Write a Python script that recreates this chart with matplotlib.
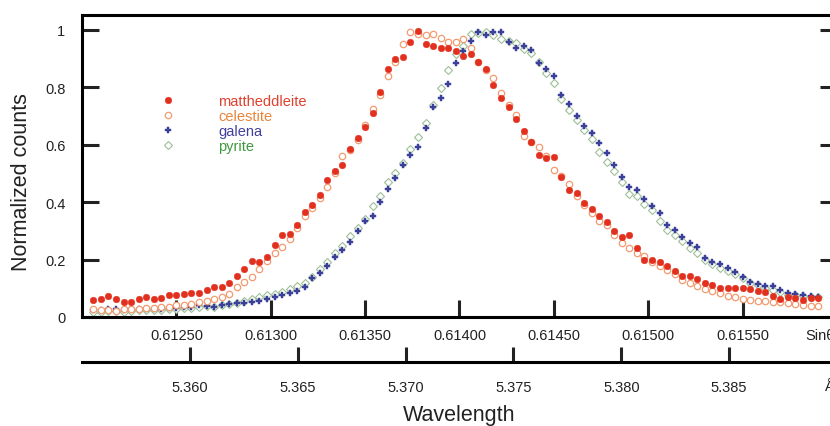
import numpy as np
import matplotlib
matplotlib.use("Agg")
import matplotlib.pyplot as plt

# ── data ──────────────────────────────────────────────────────────────────────
# scan grid in sin(theta); one point every 0.00004
sin_theta = np.round(0.61206 + 0.00004 * np.arange(97), 5)
two_d = 8.75   # lambda = 2d * sin(theta)

mattheddleite = [
    0.059, 0.062, 0.072, 0.062, 0.053, 0.052, 0.063, 0.068, 0.064, 0.065,
    0.076, 0.076, 0.079, 0.083, 0.084, 0.094, 0.103, 0.103, 0.120, 0.143,
    0.166, 0.195, 0.190, 0.210, 0.251, 0.284, 0.290, 0.319, 0.366, 0.389,
    0.424, 0.478, 0.508, 0.529, 0.586, 0.624, 0.662, 0.710, 0.784, 0.864,
    0.899, 0.906, 0.957, 0.997, 0.951, 0.943, 0.938, 0.938, 0.927, 0.908,
    0.915, 0.889, 0.864, 0.808, 0.762, 0.732, 0.691, 0.647, 0.609, 0.566,
    0.554, 0.558, 0.487, 0.444, 0.432, 0.398, 0.376, 0.351, 0.330, 0.300,
    0.277, 0.284, 0.242, 0.199, 0.197, 0.190, 0.178, 0.161, 0.144, 0.143,
    0.132, 0.120, 0.112, 0.100, 0.101, 0.101, 0.102, 0.098, 0.091, 0.086,
    0.073, 0.064, 0.070, 0.067, 0.060, 0.067, 0.067,
]
celestite = [
    0.027, 0.024, 0.024, 0.022, 0.027, 0.027, 0.029, 0.030, 0.031, 0.034,
    0.036, 0.041, 0.041, 0.045, 0.052, 0.056, 0.064, 0.069, 0.080, 0.106,
    0.121, 0.139, 0.168, 0.195, 0.223, 0.245, 0.272, 0.310, 0.351, 0.380,
    0.415, 0.453, 0.500, 0.560, 0.580, 0.615, 0.670, 0.726, 0.775, 0.840,
    0.890, 0.951, 0.992, 0.985, 0.983, 0.987, 0.971, 0.957, 0.959, 0.969,
    0.936, 0.890, 0.860, 0.833, 0.780, 0.740, 0.703, 0.630, 0.610, 0.592,
    0.560, 0.512, 0.490, 0.465, 0.423, 0.390, 0.363, 0.336, 0.321, 0.287,
    0.258, 0.239, 0.223, 0.211, 0.190, 0.178, 0.162, 0.150, 0.129, 0.118,
    0.108, 0.098, 0.091, 0.085, 0.074, 0.071, 0.063, 0.059, 0.056, 0.056,
    0.052, 0.051, 0.048, 0.045, 0.042, 0.038, 0.038,
]
galena = [
    0.024, 0.024, 0.029, 0.028, 0.024, 0.027, 0.029, 0.029, 0.029, 0.028,
    0.031, 0.033, 0.034, 0.035, 0.041, 0.040, 0.035, 0.042, 0.044, 0.048,
    0.050, 0.053, 0.056, 0.062, 0.071, 0.076, 0.083, 0.092, 0.106, 0.135,
    0.153, 0.178, 0.209, 0.234, 0.260, 0.298, 0.333, 0.353, 0.400, 0.447,
    0.485, 0.528, 0.566, 0.592, 0.660, 0.730, 0.762, 0.811, 0.884, 0.927,
    0.962, 0.994, 0.983, 0.994, 0.994, 0.957, 0.938, 0.943, 0.931, 0.884,
    0.864, 0.838, 0.773, 0.741, 0.700, 0.665, 0.642, 0.607, 0.572, 0.529,
    0.487, 0.452, 0.441, 0.411, 0.386, 0.363, 0.321, 0.304, 0.279, 0.258,
    0.244, 0.207, 0.193, 0.184, 0.169, 0.158, 0.141, 0.123, 0.115, 0.108,
    0.109, 0.094, 0.083, 0.080, 0.076, 0.073, 0.071,
]
pyrite = [
    0.018, 0.019, 0.022, 0.022, 0.019, 0.021, 0.023, 0.024, 0.025, 0.025,
    0.027, 0.029, 0.031, 0.033, 0.036, 0.038, 0.036, 0.041, 0.045, 0.050,
    0.057, 0.062, 0.068, 0.075, 0.081, 0.088, 0.097, 0.108, 0.118, 0.140,
    0.167, 0.193, 0.223, 0.249, 0.281, 0.310, 0.342, 0.386, 0.421, 0.470,
    0.502, 0.537, 0.586, 0.627, 0.677, 0.740, 0.796, 0.861, 0.916, 0.945,
    0.986, 0.990, 0.994, 0.983, 0.969, 0.960, 0.955, 0.935, 0.920, 0.889,
    0.850, 0.815, 0.760, 0.720, 0.686, 0.650, 0.619, 0.576, 0.541, 0.510,
    0.470, 0.427, 0.423, 0.395, 0.372, 0.336, 0.304, 0.287, 0.266, 0.242,
    0.223, 0.200, 0.185, 0.170, 0.160, 0.150, 0.135, 0.120, 0.110, 0.100,
    0.094, 0.088, 0.077, 0.075, 0.072, 0.070, 0.068,
]

sin_ticks = [0.6125, 0.6130, 0.6135, 0.6140, 0.6145, 0.6150, 0.6155]
wl_ticks = [5.360, 5.365, 5.370, 5.375, 5.380, 5.385]
y_ticks = [0, 0.2, 0.4, 0.6, 0.8, 1]
sin_lim = (0.6120, 0.6160)

# ── style ─────────────────────────────────────────────────────────────────────
plt.rcParams["font.family"] = ["Liberation Sans", "DejaVu Sans"]
LW = 2.2
TICK_FS = 10.5
LABEL_FS = 15.5
INK = "#222222"

fig = plt.figure(figsize=(8.3, 4.27), dpi=100)
ax = fig.add_axes([0.0988, 0.2553, 0.9096, 0.7072])

ax.plot(sin_theta, pyrite, ls="none", marker="D", ms=3.6, mfc="white",
        mec="#9dbf96", mew=0.8, label="pyrite")
ax.plot(sin_theta, galena, ls="none", marker="P", ms=4.6, mfc="#3a3f9a",
        mec="#3a3f9a", mew=0.3, label="galena")
ax.plot(sin_theta, celestite, ls="none", marker="o", ms=4.6, mfc="white",
        mec="#f29a70", mew=0.9, label="celestite")
ax.plot(sin_theta, mattheddleite, ls="none", marker="o", ms=4.8,
        mfc="#e2301f", mec="#e2301f", mew=0.3, label="mattheddleite")

ax.set_xlim(*sin_lim)
ax.set_ylim(0, 1.052)
ax.set_xticks(sin_ticks)
ax.set_xticklabels([f"{t:.5f}" for t in sin_ticks])
ax.set_yticks(y_ticks)
ax.set_yticklabels([f"{t:g}" for t in y_ticks])
ax.tick_params(axis="both", direction="in", length=12, width=LW,
               labelsize=TICK_FS, colors=INK)
ax.tick_params(axis="y", right=True, pad=12)
ax.tick_params(axis="x", pad=8)
for s in ax.spines.values():
    s.set_linewidth(LW)
ax.set_ylabel("Normalized counts", fontsize=LABEL_FS, color=INK)
ax.yaxis.set_label_coords(-0.066, 0.45)
fig.text(805 / 830, 1 - 336 / 427, "Sinθ", ha="left", va="center",
         fontsize=TICK_FS, color=INK)

# legend: reverse order so mattheddleite is on top
h, l = ax.get_legend_handles_labels()
leg = ax.legend(h[::-1], l[::-1], loc="upper left",
                bbox_to_anchor=(0.081, 0.737), frameon=False, fontsize=10.5,
                handlelength=3.43, handletextpad=1.715, labelspacing=0.06,
                borderpad=0, borderaxespad=0, numpoints=1)
for txt, c in zip(leg.get_texts(), ["#e0402e", "#e8853a", "#40409c", "#3f9a3f"]):
    txt.set_color(c)

# ── wavelength axis underneath ────────────────────────────────────────────────
ax2 = fig.add_axes([0.0988, 1 - 363 / 427, 0.9096, 0.0001])
ax2.set_xlim(two_d * sin_lim[0], two_d * sin_lim[1])
ax2.set_ylim(0, 1)
for k in ("top", "left", "right"):
    ax2.spines[k].set_visible(False)
ax2.spines["bottom"].set_linewidth(LW)
ax2.set_yticks([])
ax2.set_xticks(wl_ticks)
ax2.set_xticklabels([f"{t:.3f}" for t in wl_ticks])
ax2.tick_params(axis="x", direction="in", length=11, width=LW,
                labelsize=TICK_FS, pad=13, colors=INK)
ax2.set_xlabel("Wavelength", fontsize=LABEL_FS, labelpad=7, color=INK)
ax2.patch.set_visible(False)
fig.text(824 / 830, 1 - 387 / 427, "Å", ha="left", va="center",
         fontsize=TICK_FS, color=INK)

fig.savefig("out.png", dpi=100)
